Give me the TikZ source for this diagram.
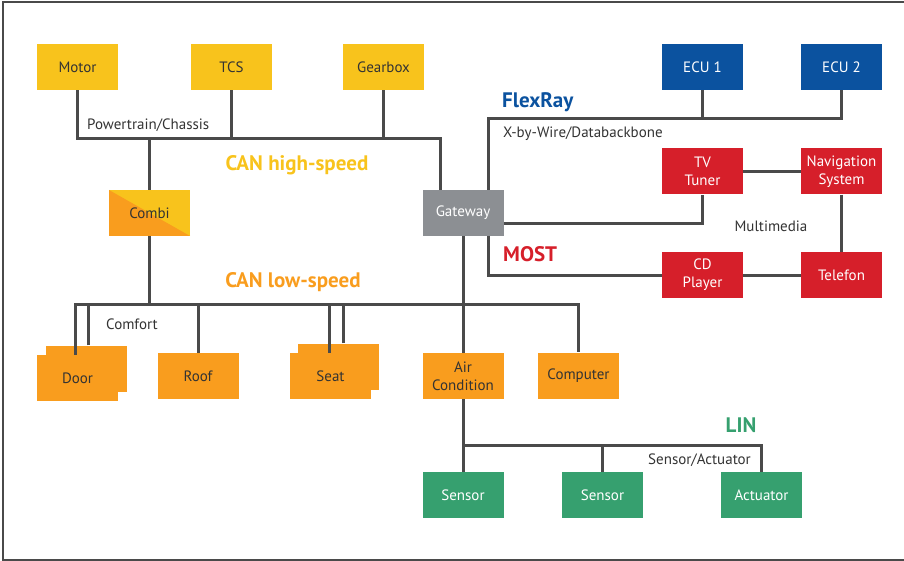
\documentclass[tikz,border=0pt]{standalone}
\usepackage{fontspec}
\setmainfont{PT Sans}
\usetikzlibrary{calc}
\definecolor{canyellow}{HTML}{F8C31C}
\definecolor{canorange}{HTML}{F99D1E}
\definecolor{frblue}{HTML}{0B529F}
\definecolor{mostred}{HTML}{D61F2A}
\definecolor{lingreen}{HTML}{36A06F}
\definecolor{gwgrey}{HTML}{8C8F93}
\definecolor{busgrey}{HTML}{4A4A4A}
\definecolor{txtgrey}{HTML}{333333}
\tikzset{
  ecu/.style = {rectangle, align=center, inner sep=0pt, minimum width=81pt, minimum height=46pt,
    font=\fontsize{15}{18}\selectfont},
  ecu_y/.style = {ecu, fill=canyellow, text=txtgrey},
  ecu_o/.style = {ecu, fill=canorange, text=txtgrey},
  ecu_b/.style = {ecu, fill=frblue, text=white},
  ecu_r/.style = {ecu, fill=mostred, text=white},
  ecu_g/.style = {ecu, fill=lingreen, text=white},
  ecu_k/.style = {ecu, fill=gwgrey, text=white},
  ecu_c/.style = {ecu, fill=canyellow, text=txtgrey,
    path picture={\fill[canorange] (path picture bounding box.north west)
      -- (path picture bounding box.south east) -- (path picture bounding box.south west) -- cycle;}},
  bus/.style = {draw=busgrey, line width=3pt},
  buslabel/.style = {inner sep=0pt, text=txtgrey, font=\fontsize{15}{18}\selectfont},
  netlabel/.style = {inner sep=0pt, font=\fontsize{21}{24}\selectfont\bfseries}
}

\begin{document}
\begin{tikzpicture}[x=1pt, y=-1pt]
	\useasboundingbox (0,0) rectangle (904,561);
	\draw[busgrey, line width=1.5pt] (904,2) -- (3,2) -- (3,560) -- (904,560);

	% CAN high-speed
	\node [ecu_y] (motor)   at (77.5,67)  {Motor};
	\node [ecu_y] (tcs)     at (231.5,67) {TCS};
	\node [ecu_y] (gearbox) at (383.5,67) {Gearbox};
	\node [ecu_c] (combi)   at (149.5,213) {Combi};
	\node [ecu_k] (gateway) at (463,213)  {Gateway};

	% FlexRay and MOST
	\node [ecu_b] (ecu1) at (702.5,67)  {ECU 1};
	\node [ecu_b] (ecu2) at (841.5,67)  {ECU 2};
	\node [ecu_r] (tv)   at (702.5,171.5) {TV\\Tuner};
	\node [ecu_r] (nav)  at (841.5,171.5) {Navigation\\System};
	\node [ecu_r] (cd)   at (702.5,275) {CD\\Player};
	\node [ecu_r] (tel)  at (841.5,275) {Telefon};

	% CAN low-speed
	\node [ecu_o] (doorb)    at (86,368.5)  {};
	\node [ecu_o] (door)     at (77.5,378)  {Door};
	\node [ecu_o] (roof)     at (198,376)   {Roof};
	\node [ecu_o] (seatb)    at (338.5,366.5) {};
	\node [ecu_o] (seat)     at (330.5,376) {Seat};
	\node [ecu_o] (aircon)   at (463,376) {Air\\Condition};
	\node [ecu_o] (computer) at (578.5,375.5) {Computer};

	% LIN
	\node [ecu_g] (sensor1)  at (463,495) {Sensor};
	\node [ecu_g] (sensor2)  at (602.5,495) {Sensor};
	\node [ecu_g] (actuator) at (761.5,495) {Actuator};

	\coordinate (hs) at (440,139);
	\coordinate (ls) at (578.5,304);
	\coordinate (fr) at (488,119);
	\coordinate (most) at (488,275);
	\coordinate (lin) at (761.5,445);

	\draw [bus] (motor.south) |- (hs) -- (hs |- gateway.north);
	\draw [bus] (tcs.south) -- (tcs.south |- hs);
	\draw [bus] (gearbox.south) -- (gearbox.south |- hs);
	\draw [bus] (combi.north) -- (combi.north |- hs);
	\draw [bus] (combi.south) -- (combi.south |- ls);

	\draw [bus] (fr |- gateway.north) -- (fr) -| (ecu2.south);
	\draw [bus] (ecu1.south) -- (ecu1.south |- fr);
	\draw [bus] ([yshift=-11pt]gateway.east) -| (tv.south);
	\draw [bus] (tv) -- (nav);
	\draw [bus] (nav) -- (tel);
	\draw [bus] (most |- gateway.south) -- (most) -- (cd.west);
	\draw [bus] (cd) -- (tel);

	\draw [bus] ([xshift=-2pt]door.north) -- ([xshift=-2pt]door.north |- ls) -- (ls) -- (computer.north);
	\draw [bus] ([xshift=2pt]doorb.north) -- ([xshift=2pt]doorb.north |- ls);
	\draw [bus] (roof.north) -- (roof.north |- ls);
	\draw [bus] ([xshift=-1.5pt]seat.north) -- ([xshift=-1.5pt]seat.north |- ls);
	\draw [bus] ([xshift=4.5pt]seatb.north) -- ([xshift=4.5pt]seatb.north |- ls);
	\draw [bus] (gateway.south) -- (aircon.north);

	\draw [bus] (aircon.south) -- (sensor1.north);
	\draw [bus] (aircon.south |- lin) -- (lin) -- (actuator.north);
	\draw [bus] (sensor2.north) -- (sensor2.north |- lin);

	% labels
	\node [buslabel, anchor=west] (ptlbl) at (87,125) {Powertrain/Chassis};
	\node [netlabel, text=canyellow] (hslbl) at (297,165) {CAN high-speed};
	\node [netlabel, text=frblue, anchor=west] (frlbl) at (502,102) {FlexRay};
	\node [buslabel, anchor=west] (xbwlbl) at (503,134) {X-by-Wire/Databackbone};
	\node [buslabel] (mmlbl) at (771,226) {Multimedia};
	\node [netlabel, text=mostred, anchor=west] (mostlbl) at (503,254) {MOST};
	\node [netlabel, text=canorange] (lslbl) at (293,282) {CAN low-speed};
	\node [buslabel] (cflbl) at (132,324) {Comfort};
	\node [netlabel, text=lingreen] (linlbl) at (741,425) {LIN};
	\node [buslabel, anchor=east] (salbl) at (751,460) {Sensor/Actuator};
\end{tikzpicture}
\end{document}
